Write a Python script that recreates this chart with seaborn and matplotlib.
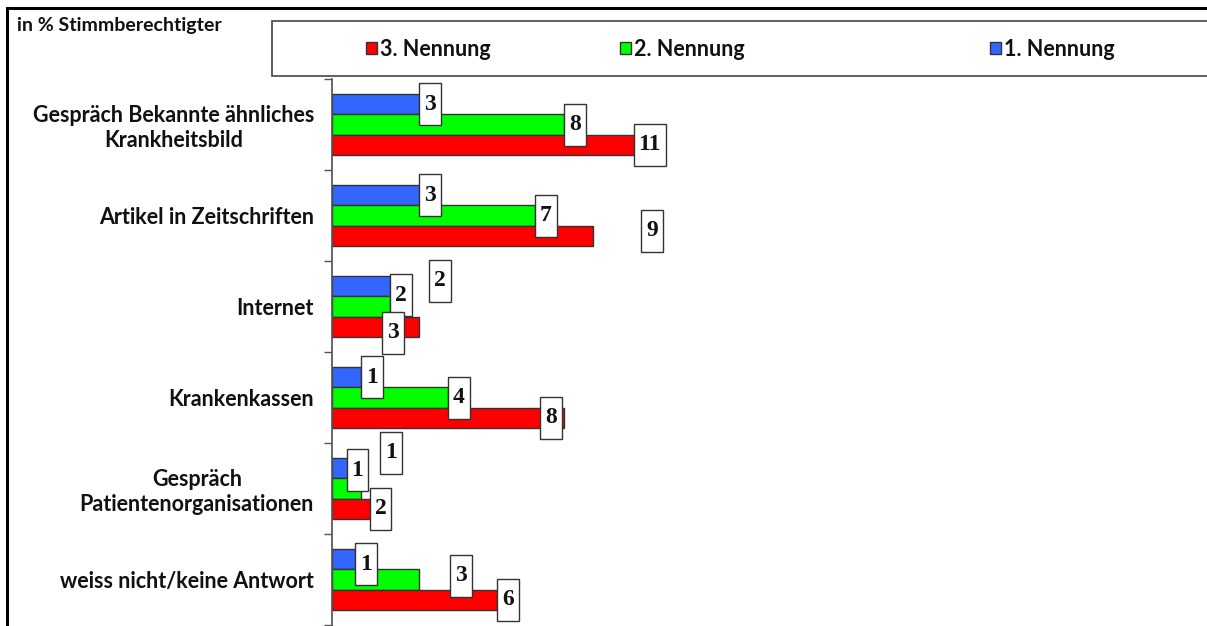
# Informationsquellen - horizontale Balken mit Wertboxen, 3 Nennungen

import numpy as np
import pandas as pd
import seaborn as sns
import matplotlib.pyplot as plt
from matplotlib.patches import Rectangle
from matplotlib.path import Path

sns.set_theme(style='white')
plt.rcParams['font.family'] = ['Lato', 'DejaVu Sans']

# Daten (Balkenlaengen, Boxwerte wie angeschrieben)
kategorien = ['Gespräch Bekannte ähnliches\nKrankheitsbild',
              'Artikel in Zeitschriften',
              'Internet',
              'Krankenkassen',
              'Gespräch\nPatientenorganisationen',
              'weiss nicht/keine Antwort']
nennung_1 = [3.0, 3.0, 2.0, 1.0, 0.5, 0.8]
nennung_2 = [8.0, 7.0, 2.0, 4.0, 1.0, 3.0]
nennung_3 = [10.4, 9.0, 3.0, 8.0, 1.3, 5.7]
werte_1 = [3, 3, 2, 1, 1, 1]
werte_2 = [8, 7, 2, 4, 1, 3]
werte_3 = [11, 9, 3, 8, 2, 6]
serien = ['1. Nennung', '2. Nennung', '3. Nennung']
farben = {'1. Nennung': '#3366FF', '2. Nennung': '#00FF00', '3. Nennung': '#FF0000'}

# verrutschte Wertboxen wie im Original (Pixel, dx nach rechts, dy nach unten)
versatz = [
    [(0, 0), (0, 0), (0, 9), (0, 0), (0, 2), (0, 5)],
    [(0, 0), (0, 0), (39, -26), (0, 0), (19, -36), (31, -4)],
    [(0, 0), (48, -5), (-37, 6), (-24, 0), (0, 0), (0, 0)],
]

df = pd.DataFrame({
    'Kategorie': kategorien * 3,
    'Nennung': [s for s in serien for _ in kategorien],
    'Wert': nennung_1 + nennung_2 + nennung_3,
})

W, H = 1207, 626
fig = plt.figure(figsize=(W / 100, H / 100), dpi=100)
ax = fig.add_axes([332 / W, 1 / H, 870 / W, 546 / H])

sns.barplot(data=df, y='Kategorie', x='Wert', hue='Nennung', hue_order=serien,
            palette=farben, saturation=1, orient='h', width=0.66, errorbar=None,
            edgecolor='#333333', linewidth=1, ax=ax)
handles, labels = ax.get_legend_handles_labels()
ax.get_legend().remove()

ax.set_xlim(0, 30)
ax.set_xticks([])
ax.set_xlabel('')
ax.set_ylabel('')
for s in ['top', 'right', 'bottom']:
    ax.spines[s].set_visible(False)
ax.spines['left'].set_color('#555555')
ax.set_yticks(range(len(kategorien)))
ax.set_yticklabels(kategorien, fontsize=15.5, fontweight='bold', color='#111111')
for t in ax.get_yticklabels():
    t.set_multialignment('center')
ax.tick_params(axis='y', which='major', length=0, pad=13)
ax.set_yticks(np.arange(-0.5, len(kategorien), 1), minor=True)
ax.tick_params(axis='y', which='minor', length=6, width=1, color='#555555', direction='out', left=True)


def hohe_box(x0, y0, width, height, mutation_size):
    px = 5.0
    half = 21.0
    cy = y0 + height / 2
    return Path([(x0 - px, cy - half), (x0 + width + px, cy - half),
                 (x0 + width + px, cy + half), (x0 - px, cy + half),
                 (x0 - px, cy - half)], closed=True)


fs_wert = 17
pad_px = 5.0
for cont, werte, off in zip(ax.containers, [werte_1, werte_2, werte_3], versatz):
    for bar, w, (dx, dy) in zip(cont, werte, off):
        yc = bar.get_y() + bar.get_height() / 2
        ax.annotate(str(w), xy=(bar.get_width(), yc), xytext=(pad_px + dx, -dy),
                    textcoords='offset pixels', ha='left', va='center',
                    fontsize=fs_wert, fontweight='bold', family='Liberation Serif',
                    color='#111111', annotation_clip=False,
                    bbox=dict(boxstyle=hohe_box, fc='white', ec='#333333', lw=1))

# Rahmen und Legendenkasten
fig.patches.append(Rectangle((7 / W, -0.1), 1.2, 1 - 8 / H + 0.1, transform=fig.transFigure,
                             fill=False, ec='black', lw=2.2, zorder=0))
fig.patches.append(Rectangle((272 / W, 1 - 76 / H), 1.0, 55 / H, transform=fig.transFigure,
                             fc='white', ec='#444444', lw=1.2, zorder=1))
fig.text(17 / W, 1 - 25 / H, 'in % Stimmberechtigter', fontsize=14, fontweight='bold',
         va='center', ha='left', color='#111111')

for i, x_px in zip([2, 1, 0], [366, 620, 990]):
    leg = fig.legend([handles[i]], [labels[i]], loc='center left',
                     bbox_to_anchor=(x_px / W, 1 - 49 / H), frameon=False,
                     handlelength=0.5, handleheight=0.5, handletextpad=0.15,
                     borderpad=0, borderaxespad=0,
                     prop={'size': 15.5, 'weight': 'bold'})
    for tx in leg.get_texts():
        tx.set_color('#111111')
    leg.set_zorder(3)

fig.savefig('out.png', dpi=100)
